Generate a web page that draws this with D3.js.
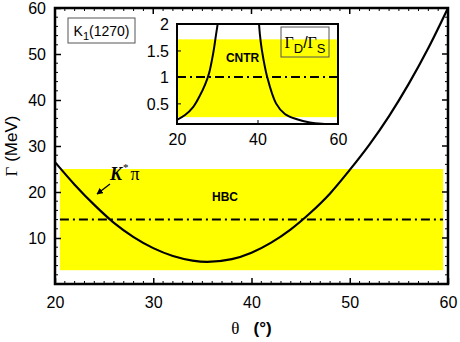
<!DOCTYPE html>
<html>
<head>
<meta charset="utf-8">
<script src="https://cdn.jsdelivr.net/npm/d3@7"></script>
<style>
  body { margin: 0; background: #fff; }
  text { font-family: "Liberation Sans", Arial, sans-serif; }
</style>
</head>
<body>
<div id="container"></div>
<script>
// main curve: Gamma(K* pi) vs theta
var theta = [20, 22, 24, 26, 28, 30, 32, 34, 35.5, 38, 40, 42, 44, 46, 48, 50, 52, 54, 56, 58, 60];
var gamma = [26.5, 21.6, 17.2, 13.3, 10.2, 7.8, 6.1, 5.1, 4.8, 5.4, 6.8, 9.0, 11.9, 15.5, 19.7, 24.8, 30.3, 36.5, 43.5, 51.3, 60];
var hbcBand = [3, 25], hbcCentral = 14, hbcTheta = [20.5, 59.5];

// inset: Gamma_D / Gamma_S, two branches
var ratioThetaL = [20, 22, 24, 25.5, 27, 28, 29, 29.7, 30.3];
var ratioL = [0.19, 0.28, 0.43, 0.62, 0.86, 1.08, 1.45, 1.8, 2.1];
var ratioThetaR = [40.2, 40.6, 41.1, 42.4, 44.6, 46.8, 49.8, 53, 56, 60];
var ratioR = [2.2, 1.8, 1.5, 1.0, 0.5, 0.3, 0.2, 0.14, 0.115, 0.105];
var cntrBand = [0.24, 1.71], cntrCentral = 1.0;

var xTicks = [20, 30, 40, 50, 60];
var yTicks = [10, 20, 30, 40, 50, 60];
var inXTicks = [20, 40, 60];
var inYTicks = [0.5, 1, 1.5, 2];

var W = 460, H = 342;
var svg = d3.select("#container").append("svg").attr("width", W).attr("height", H);
var m = {left: 55, top: 8, right: 12, bottom: 58};
var w = W - m.left - m.right, h = H - m.top - m.bottom;
var g = svg.append("g").attr("transform", "translate(" + m.left + "," + m.top + ")");

var x = d3.scaleLinear().domain([20, 60]).range([0, w]);
var y = d3.scaleLinear().domain([0, 60]).range([h, 0]);

// yellow band
g.append("rect")
  .attr("x", x(hbcTheta[0])).attr("width", x(hbcTheta[1]) - x(hbcTheta[0]))
  .attr("y", y(hbcBand[1])).attr("height", y(hbcBand[0]) - y(hbcBand[1]))
  .attr("fill", "#ffff00");

g.append("line")
  .attr("x1", x(hbcTheta[0])).attr("x2", x(hbcTheta[1]))
  .attr("y1", y(hbcCentral)).attr("y2", y(hbcCentral))
  .attr("stroke", "#000").attr("stroke-width", 2)
  .attr("stroke-dasharray", "9,4,2,4");

var pts = theta.map(function(t, i) { return [t, gamma[i]]; });
var line = d3.line().x(function(d) { return x(d[0]); }).y(function(d) { return y(d[1]); })
  .curve(d3.curveCatmullRom);
g.append("path").datum(pts).attr("d", line)
  .attr("fill", "none").attr("stroke", "#000").attr("stroke-width", 2.2);

// minor ticks
var minorX = d3.range(21, 60, 1).filter(function(v) { return v % 10 != 0; });
var minorY = d3.range(2, 60, 2).filter(function(v) { return v % 10 != 0; });
var tk = g.append("g").attr("stroke", "#000").attr("stroke-width", 1);
minorX.forEach(function(v) {
  tk.append("line").attr("x1", x(v)).attr("x2", x(v)).attr("y1", h).attr("y2", h - 3);
  tk.append("line").attr("x1", x(v)).attr("x2", x(v)).attr("y1", 0).attr("y2", 3);
});
minorY.forEach(function(v) {
  tk.append("line").attr("x1", 0).attr("x2", 3).attr("y1", y(v)).attr("y2", y(v));
  tk.append("line").attr("x1", w).attr("x2", w - 3).attr("y1", y(v)).attr("y2", y(v));
});

// axes
var xAxis = d3.axisBottom(x).tickValues(xTicks).tickSizeInner(-6).tickSizeOuter(0).tickPadding(13);
var yAxis = d3.axisLeft(y).tickValues(yTicks).tickSizeInner(-6).tickSizeOuter(0).tickPadding(9);
g.append("g").attr("transform", "translate(0," + h + ")").call(xAxis)
  .call(function(s) { s.select(".domain").remove(); s.selectAll("line").attr("stroke-width", 1.5); })
  .selectAll("text").style("font-size", "16px").attr("fill", "#000");
g.append("g").call(yAxis)
  .call(function(s) { s.select(".domain").remove(); s.selectAll("line").attr("stroke-width", 1.5); })
  .selectAll("text").style("font-size", "16px").attr("fill", "#000").attr("dy", "0.36em");
g.append("g").selectAll("line").data(xTicks).enter().append("line")
  .attr("x1", function(d) { return x(d); }).attr("x2", function(d) { return x(d); })
  .attr("y1", 0).attr("y2", 6).attr("stroke", "#000").attr("stroke-width", 1.5);
g.append("g").selectAll("line").data(yTicks).enter().append("line")
  .attr("x1", w).attr("x2", w - 6)
  .attr("y1", function(d) { return y(d); }).attr("y2", function(d) { return y(d); })
  .attr("stroke", "#000").attr("stroke-width", 1.5);

g.append("rect").attr("width", w).attr("height", h)
  .attr("fill", "none").attr("stroke", "#000").attr("stroke-width", 2.5);

// axis labels
svg.append("text").attr("transform", "translate(17," + (m.top + h / 2) + ") rotate(-90)")
  .attr("text-anchor", "middle").style("font-size", "17px")
  .html('<tspan font-family="Liberation Serif, serif">\u0393</tspan> (MeV)');
svg.append("text").attr("x", m.left + w / 2).attr("y", 334)
  .attr("text-anchor", "middle").style("font-size", "17px")
  .html('<tspan font-family="Liberation Serif, serif">\u03b8</tspan>\u00a0\u00a0 <tspan font-weight="bold">(\u00b0)</tspan>');

// K1(1270) box
svg.append("rect").attr("x", 68).attr("y", 18).attr("width", 67).attr("height", 25)
  .attr("fill", "#fff").attr("stroke", "#555").attr("stroke-width", 1);
svg.append("text").attr("x", 101.5).attr("y", 36).attr("text-anchor", "middle")
  .style("font-size", "14px")
  .html('K<tspan dy="4" font-size="11px">1</tspan><tspan dy="-4">(1270)</tspan>');

// labels in main
g.append("text").attr("x", x(37.3)).attr("y", y(18)).attr("text-anchor", "middle")
  .style("font-size", "12px").style("font-weight", "bold").text("HBC");
g.append("text").attr("x", 55).attr("y", 172).style("font-size", "18px")
  .style("font-family", "Liberation Serif, serif")
  .html('<tspan font-weight="bold" font-style="italic">K</tspan><tspan dx="1" dy="-9" font-size="11px">*</tspan><tspan dx="2" dy="9">\u03c0</tspan>');
svg.append("defs").append("marker").attr("id", "ah").attr("viewBox", "0 0 10 10")
  .attr("refX", 9).attr("refY", 5).attr("markerWidth", 5).attr("markerHeight", 5)
  .attr("orient", "auto").append("path").attr("d", "M0,0 L10,5 L0,10 z").attr("fill", "#000");
svg.append("line").attr("x1", 110).attr("y1", 184).attr("x2", 97).attr("y2", 194)
  .attr("stroke", "#000").attr("stroke-width", 1.3).attr("marker-end", "url(#ah)");

// inset
var ix0 = 177, iy0 = 24, iw = 161, ih = 100;
var ig = svg.append("g").attr("transform", "translate(" + ix0 + "," + iy0 + ")");
var ix = d3.scaleLinear().domain([20, 60]).range([0, iw]);
var iy = d3.scaleLinear().domain([0.11, 2]).range([ih, 0]);
ig.append("rect").attr("width", iw).attr("height", ih).attr("fill", "#fff");
ig.append("rect").attr("x", 0).attr("width", ix(59.8))
  .attr("y", iy(cntrBand[1])).attr("height", iy(cntrBand[0]) - iy(cntrBand[1]))
  .attr("fill", "#ffff00");
ig.append("line").attr("x1", 0).attr("x2", ix(59.8))
  .attr("y1", iy(cntrCentral)).attr("y2", iy(cntrCentral))
  .attr("stroke", "#000").attr("stroke-width", 2).attr("stroke-dasharray", "9,4,2,4");
ig.append("clipPath").attr("id", "ic").append("rect").attr("width", iw).attr("height", ih);
var iline = d3.line().x(function(d) { return ix(d[0]); }).y(function(d) { return iy(d[1]); })
  .curve(d3.curveCatmullRom);
[[ratioThetaL, ratioL], [ratioThetaR, ratioR]].forEach(function(b) {
  ig.append("path").datum(b[0].map(function(t, i) { return [t, b[1][i]]; }))
    .attr("d", iline).attr("clip-path", "url(#ic)")
    .attr("fill", "none").attr("stroke", "#000").attr("stroke-width", 2);
});
ig.append("g").attr("transform", "translate(0," + ih + ")")
  .call(d3.axisBottom(ix).tickValues(inXTicks).tickSizeInner(-4).tickSizeOuter(0).tickPadding(10))
  .call(function(s) { s.select(".domain").remove(); })
  .selectAll("text").style("font-size", "16px").attr("fill", "#000");
ig.append("g")
  .call(d3.axisLeft(iy).tickValues(inYTicks).tickFormat(d3.format("")).tickSizeInner(-4).tickSizeOuter(0).tickPadding(8))
  .call(function(s) { s.select(".domain").remove(); })
  .selectAll("text").style("font-size", "16px").attr("fill", "#000").attr("dy", "0.36em");
ig.append("rect").attr("width", iw).attr("height", ih)
  .attr("fill", "none").attr("stroke", "#000").attr("stroke-width", 2);
ig.append("text").attr("x", ix(36.3)).attr("y", 38).attr("text-anchor", "middle")
  .style("font-size", "12px").style("font-weight", "bold").text("CNTR");
ig.append("rect").attr("x", 104).attr("y", 3).attr("width", 48).attr("height", 30)
  .attr("fill", "none").attr("stroke", "#555").attr("stroke-width", 1);
ig.append("text").attr("x", 128).attr("y", 24).attr("text-anchor", "middle")
  .style("font-size", "16px")
  .html('<tspan font-family="Liberation Serif, serif">\u0393</tspan><tspan dy="5" font-size="13px">D</tspan><tspan dy="-5">/</tspan><tspan font-family="Liberation Serif, serif">\u0393</tspan><tspan dy="5" font-size="13px">S</tspan>');
</script>
</body>
</html>
